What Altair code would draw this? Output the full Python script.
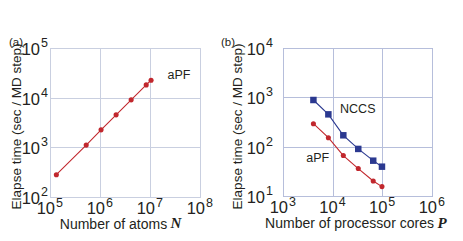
import altair as alt
import pandas as pd

# ---- data ----
atoms_N = [1.34e5, 5.3e5, 1.05e6, 2.1e6, 4.2e6, 8.4e6, 1.05e7]
atoms_time = [281, 1110, 2250, 4510, 9040, 18070, 22450]

cores_P = [4096, 8192, 16384, 32768, 65536, 98304]
nccs_time = [883, 452, 170, 90, 52, 39.3]
apf_time = [292, 152, 66, 36, 20.1, 15.5]

# tick values / exponents
xa_ticks = [1e5, 1e6, 1e7, 1e8]
xa_exp = ["5", "6", "7", "8"]
ya_ticks = [1e2, 1e3, 1e4, 1e5]
ya_exp = ["2", "3", "4", "5"]
xb_ticks = [1e3, 1e4, 1e5, 1e6]
xb_exp = ["3", "4", "5", "6"]
yb_ticks = [1e1, 1e2, 1e3, 1e4]
yb_exp = ["1", "2", "3", "4"]

# series label anchors (data coordinates)
lab_a = {"x": [3.8e7], "y": [2.9e4], "t": ["aPF"]}
lab_b = {"x": [3.2e4, 5.0e3], "y": [582, 59], "t": ["NCCS", "aPF"]}

RED = "#c1272d"
BLUE = "#2b3990"
TXT = "#231f20"
FONT = "Liberation Sans"
BIG = 16.5
SUP = 12.5


def xaxis(title, tx, vals, gc):
    return alt.Axis(
        values=vals, labels=False, ticks=False, domain=False,
        grid=True, gridColor=gc, gridWidth=1,
        title=title, titleFont=FONT, titleFontSize=14, titleFontWeight="normal",
        titleColor=TXT, titleX=tx, titleY=31, titleBaseline="alphabetic",
        titleAlign="center",
    )


def yaxis(tx, vals, gc):
    return alt.Axis(
        values=vals, labels=False, ticks=False, domain=False,
        grid=True, gridColor=gc, gridWidth=1,
        title="Elapse time (sec / MD step)", titleFont=FONT, titleFontSize=13.5,
        titleFontWeight="normal", titleColor=TXT, titleX=tx, titleY=78,
        titleAlign="center", titleBaseline="bottom",
    )


def tick_layers(xfield, yfield, xt, xe, yt, ye, H, ylab_dx):
    dx_ = pd.DataFrame({xfield: xt, "e": xe, "b": ["10"] * len(xt)})
    dy_ = pd.DataFrame({yfield: yt, "e": ye, "b": ["10"] * len(yt)})
    xb = alt.Chart(dx_).mark_text(font=FONT, fontSize=BIG, color=TXT, align="right",
                                  baseline="alphabetic", dx=5).encode(
        x=alt.X(f"{xfield}:Q"), y=alt.value(H + 17), text="b:N")
    xs = alt.Chart(dx_).mark_text(font=FONT, fontSize=SUP, color=TXT, align="left",
                                  baseline="alphabetic", dx=6).encode(
        x=alt.X(f"{xfield}:Q"), y=alt.value(H + 10), text="e:N")
    yb = alt.Chart(dy_).mark_text(font=FONT, fontSize=BIG, color=TXT, align="right",
                                  baseline="alphabetic", dy=7).encode(
        y=alt.Y(f"{yfield}:Q"), x=alt.value(ylab_dx), text="b:N")
    ys = alt.Chart(dy_).mark_text(font=FONT, fontSize=SUP, color=TXT, align="left",
                                  baseline="alphabetic", dy=-1).encode(
        y=alt.Y(f"{yfield}:Q"), x=alt.value(ylab_dx + 1), text="e:N")
    return [xb, xs, yb, ys]


# ---------------- panel (a) ----------------
GA = "#c9cfe0"
dfa = pd.DataFrame({"N": atoms_N, "t": atoms_time})
xa = alt.X("N:Q", scale=alt.Scale(type="log", domain=[1e5, 1e8]),
           axis=xaxis("Number of atoms", 63, xa_ticks, GA))
ya = alt.Y("t:Q", scale=alt.Scale(type="log", domain=[1e2, 1e5]),
           axis=yaxis(-27, ya_ticks, GA))
base_a = alt.Chart(dfa).encode(x=xa, y=ya)
line_a = base_a.mark_line(color=RED, strokeWidth=1.1)
pts_a = base_a.mark_circle(color=RED, size=26, opacity=1)
txt_a = alt.Chart(pd.DataFrame({"N": lab_a["x"], "t": lab_a["y"], "s": lab_a["t"]})).mark_text(
    font=FONT, fontSize=12.5, color=TXT).encode(
    x=alt.X("N:Q"), y=alt.Y("t:Q"), text="s:N")
sym_a = alt.Chart(pd.DataFrame({"s": ["N"]})).mark_text(
    font="Liberation Serif", fontSize=15, fontStyle="italic", fontWeight="bold",
    color=TXT, baseline="alphabetic").encode(
    x=alt.value(126), y=alt.value(180), text="s:N")
tag_a = alt.Chart(pd.DataFrame({"s": ["(a)"]})).mark_text(
    font=FONT, fontSize=11.5, color=TXT, align="left").encode(
    x=alt.value(-41), y=alt.value(-5), text="s:N")
ticks_a = tick_layers("N", "t", xa_ticks, xa_exp, ya_ticks, ya_exp, 149, -10)
panel_a = alt.layer(line_a, pts_a, txt_a, sym_a, tag_a, *ticks_a).properties(
    width=150, height=149,
    view=alt.ViewBackground(stroke="#c3c9dd", strokeWidth=1))

# ---------------- panel (b) ----------------
GB = "#b6bedb"
dfb = pd.DataFrame({
    "P": cores_P * 2,
    "t": nccs_time + apf_time,
    "s": ["NCCS"] * len(cores_P) + ["aPF"] * len(cores_P),
})
xbx = alt.X("P:Q", scale=alt.Scale(type="log", domain=[1e3, 1e6]),
            axis=xaxis("Number of processor cores", 66, xb_ticks, GB))
yby = alt.Y("t:Q", scale=alt.Scale(type="log", domain=[1e1, 1e4]),
            axis=yaxis(-39, yb_ticks, GB))
cscale = alt.Scale(domain=["NCCS", "aPF"], range=[BLUE, RED])
base_b = alt.Chart(dfb).encode(
    x=xbx, y=yby, color=alt.Color("s:N", scale=cscale, legend=None), detail="s:N")
line_b = base_b.mark_line(strokeWidth=1.1)
pts_b = base_b.mark_point(filled=True, opacity=1).encode(
    shape=alt.Shape("s:N", scale=alt.Scale(domain=["NCCS", "aPF"],
                                           range=["square", "circle"]), legend=None),
    size=alt.Size("s:N", scale=alt.Scale(domain=["NCCS", "aPF"], range=[42, 26]),
                  legend=None),
)
txt_b = alt.Chart(pd.DataFrame({"P": lab_b["x"], "t": lab_b["y"], "s": lab_b["t"]})).mark_text(
    font=FONT, fontSize=12.5, color=TXT).encode(
    x=alt.X("P:Q"), y=alt.Y("t:Q"), text="s:N")
sym_b = alt.Chart(pd.DataFrame({"s": ["P"]})).mark_text(
    font="Liberation Serif", fontSize=15, fontStyle="italic", fontWeight="bold",
    color=TXT, baseline="alphabetic").encode(
    x=alt.value(159), y=alt.value(180), text="s:N")
tag_b = alt.Chart(pd.DataFrame({"s": ["(b)"]})).mark_text(
    font=FONT, fontSize=11.5, color=TXT, align="left").encode(
    x=alt.value(-62), y=alt.value(-5), text="s:N")
ticks_b = tick_layers("P", "t", xb_ticks, xb_exp, yb_ticks, yb_exp, 148, -18)
panel_b = alt.layer(line_b, pts_b, txt_b, sym_b, tag_b, *ticks_b).properties(
    width=149, height=148,
    view=alt.ViewBackground(stroke="#8d98c4", strokeWidth=1))

chart = alt.hconcat(panel_a, panel_b, spacing=83, bounds="flush").resolve_scale(
    color="independent", shape="independent", size="independent"
).properties(
    padding={"left": 0, "top": 28, "right": 0, "bottom": 0}
).configure(background="white")

chart.save("out.html", embed_options={"renderer": "svg", "actions": False})
